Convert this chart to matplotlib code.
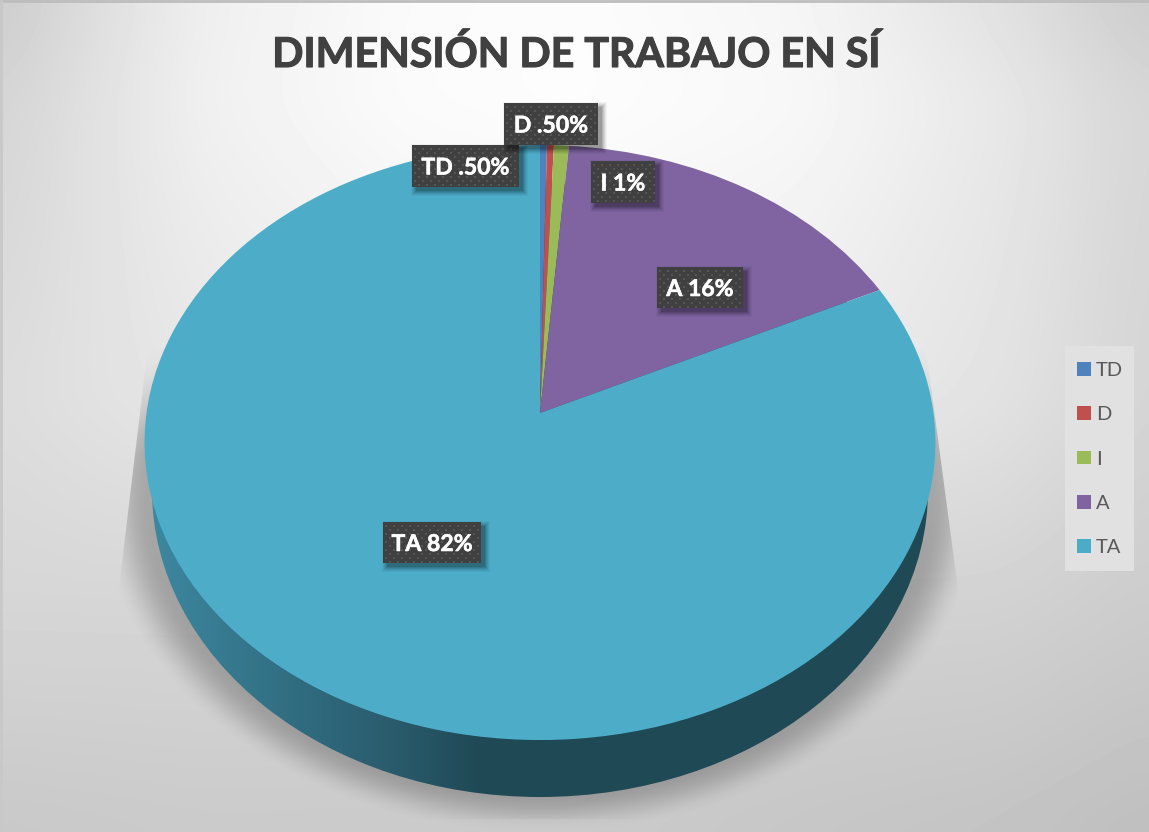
import numpy as np
import matplotlib
matplotlib.use("Agg")
import matplotlib.pyplot as plt
import matplotlib.patheffects as pe
from matplotlib.patches import Rectangle, Ellipse, Patch
from matplotlib.transforms import Transform

# ---- data ----
categories = ["TD", "D", "I", "A", "TA"]
slice_sizes = [0.31, 0.31, 0.67, 16.54, 82.17]
# text of the data labels as printed in the chart
value_labels = [".50%", ".50%", "1%", "16%", "82%"]
colors = ["#4f81bd", "#c0504d", "#9bbb59", "#8064a2", "#4dadc9"]
title_text = "DIMENSIÓN DE TRABAJO EN SÍ"

W, H = 1149, 832
plt.rcParams["font.family"] = ["Lato", "DejaVu Sans"]
fig = plt.figure(figsize=(W / 100, H / 100), dpi=100)
ax = fig.add_axes([0, 0, 1, 1])


class Tilt(Transform):
    """Perspective view of the unit-circle pie, output in pixel coordinates."""
    input_dims = output_dims = 2
    def __init__(self, cx, cy, ax_, ay_, k):
        super().__init__()
        self.p = (cx, cy, ax_, ay_, k)
    def transform_non_affine(self, v):
        cx, cy, a, s, k = self.p
        v = np.asarray(v, float)
        w = 1 + k * v[:, 1]
        return np.column_stack([cx + a * v[:, 0] / w, cy - s * v[:, 1] / w])


def box_blur(arr, size, axis):
    pad = size // 2
    widths = [(0, 0), (0, 0)]
    widths[axis] = (pad + 1, pad)
    c = np.cumsum(np.pad(arr, widths, mode="edge"), axis=axis)
    if axis == 0:
        return (c[size:, :] - c[:-size, :]) / size
    return (c[:, size:] - c[:, :-size]) / size


# ---- background ----
gx = [0, 100, 200, 400, 575, 800, 1000, 1149]
gy = [0, 100, 400, 600, 832]
gv = np.array([
    [203, 222, 238, 250, 252, 245, 225, 203],
    [212, 226, 240, 251, 253, 248, 232, 214],
    [220, 226, 230, 236, 238, 235, 226, 212],
    [214, 214, 214, 212, 212, 210, 210, 204],
    [200, 201, 202, 202, 202, 198, 195, 190],
], float)
X, Y = np.meshgrid(np.arange(W) + .5, np.arange(H) + .5)
rows = np.array([np.interp(X[0], gx, r) for r in gv])
bg = np.array([np.interp(Y[:, 0], gy, rows[:, j]) for j in range(W)]).T
for _ in range(2):
    bg = box_blur(box_blur(bg, 61, 0), 61, 1)
ax.imshow(bg, cmap="gray", vmin=0, vmax=255, extent=(0, W, H, 0), aspect="auto", zorder=0)
ax.plot([0, W], [1, 1], color="#bdbdbd", lw=2, zorder=0.5)
ax.plot([1, 1], [0, H], color="#c8c8c8", lw=2, zorder=0.5)

# ---- soft shadow ----
def sstep(t):
    t = np.clip(t, 0, 1)
    return t * t * (3 - 2 * t)
n = np.hypot((X - 540) / 445, (Y - 490) / 345)
alpha = 0.32 * sstep((1 - n) / 0.12) * sstep((Y - 335) / 130)
xl = 135 - (Y - 450) * 0.12
xr = 940 + (Y - 450) * 0.133
alpha *= np.clip(X - xl, 0, 1) * np.clip(xr - X, 0, 1)
alpha[Y > 819] *= 0.5
rgba = np.zeros((H, W, 4))
rgba[..., :3] = 0.2
rgba[..., 3] = alpha
ax.imshow(rgba, extent=(0, W, H, 0), aspect="auto", zorder=1)

# ---- side wall ----
stops_x = [150, 300, 400, 480, 1000]
wall = np.array([
    np.interp(X[0], stops_x, [0x3d, 0x30, 0x29, 0x1f, 0x1f]),
    np.interp(X[0], stops_x, [0x88, 0x6c, 0x5a, 0x49, 0x49]),
    np.interp(X[0], stops_x, [0xa0, 0x80, 0x6b, 0x55, 0x55]),
]).T[None, :, :] / 255
im = ax.imshow(wall, extent=(0, W, H, 0), aspect="auto", zorder=2)
clip = Ellipse((540, 490), 776, 614, transform=ax.transData, fc="none", ec="none")
ax.add_patch(clip)
im.set_clip_path(clip)

# ---- pie ----
wedges, _ = ax.pie(slice_sizes, colors=colors, startangle=90, counterclock=False,
                   radius=1, frame=True, wedgeprops=dict(linewidth=0, zorder=3))
tilt = Tilt(540, 413, 393.5, 294.6, 0.0992)
for w in wedges:
    w.set_transform(tilt + ax.transData)

ax.set_aspect("auto")
ax.set_xlim(0, W)
ax.set_ylim(H, 0)
ax.set_xticks([])
ax.set_yticks([])
for s in ax.spines.values():
    s.set_visible(False)

# ---- data labels (x0, x1, y0, y1 of each box in pixels) ----
boxes = [(412, 519, 145, 187), (504, 598, 103, 145), (591, 655, 161, 203),
         (657, 743, 267, 308), (383, 481, 522, 563)]
for i, ((x0, x1, y0, y1), cat, val) in enumerate(zip(boxes, categories, value_labels)):
    z = 5 + i * 0.1
    for grow, a in [(5, .04), (4, .05), (3, .06), (2, .08), (1, .10), (0, .12)]:
        ax.add_patch(Rectangle((x0 + 4 - grow, y0 + 4 - grow), x1 - x0 + 2 * grow, y1 - y0 + 2 * grow,
                               fc="black", ec="none", alpha=a, zorder=z))
    ax.add_patch(Rectangle((x0, y0), x1 - x0, y1 - y0, fc="#404040", ec="none", zorder=z + .01))
    dx, dy = [], []
    for r, yy in enumerate(np.arange(y0 + 4, y1, 4)):
        for xx in np.arange(x0 + 3 + (r % 2) * 4, x1, 8):
            dx.append(xx); dy.append(yy)
    ax.scatter(dx, dy, s=1.4, marker="s", c="#555555", linewidths=0, zorder=z + .02)
    ax.text((x0 + x1) / 2, (y0 + y1) / 2 + 2, f"{cat} {val}", color="white", fontsize=16.6,
            fontweight="bold", ha="center", va="center", zorder=z + .03,
            path_effects=[pe.withStroke(linewidth=0.4, foreground="white")])

# ---- legend ----
ax.add_patch(Rectangle((1065, 346), 69, 225, fc="#e1e1e1", ec="none", zorder=5.9))
handles = [Patch(fc=c if c != colors[-1] else "#4bacc6", ec="none") for c in colors]
ax.legend(handles, categories, loc="upper left", bbox_to_anchor=(1065, 350),
          bbox_transform=ax.transData, borderaxespad=0, fontsize=14.5, labelcolor="#595959",
          handlelength=0.69, handleheight=0.69, handletextpad=0.25, labelspacing=1.35,
          borderpad=0.6, frameon=False).set_zorder(6)

# ---- title ----
ax.set_title(title_text, fontsize=29.6, fontweight="bold", color="#404040",
             x=576 / W, y=1 - 67 / H, va="baseline", pad=0,
             path_effects=[pe.withStroke(linewidth=0.8, foreground="#404040")])

fig.savefig("out.png", dpi=100)
